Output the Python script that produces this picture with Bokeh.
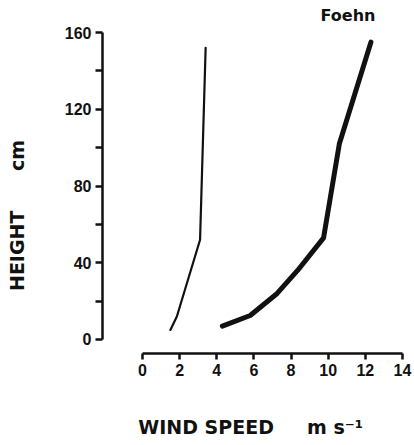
from bokeh.plotting import figure
from bokeh.models import FixedTicker, Range1d, Title
from bokeh.embed import file_html
from bokeh.resources import INLINE

# ---- data ----
normal_speed = [1.5, 1.85, 3.1, 3.4]          # m/s
normal_height = [5, 12, 52, 152]               # cm

foehn_speed = [4.3, 5.8, 7.25, 8.35, 9.75, 10.6, 12.3]
foehn_height = [7, 12.5, 24, 36, 53, 102, 155]

x_ticks = [0, 2, 4, 6, 8, 10, 12, 14]
y_ticks = [0, 40, 80, 120, 160]
y_minor = [20, 60, 100, 140]

NB = "\u00a0"

p = figure(width=414, height=445, output_backend="svg", toolbar_location=None,
           x_range=Range1d(-2.154, 14.162), y_range=Range1d(-7.3, 164.2))
p.min_border_left = 102
p.min_border_right = 9
p.min_border_top = 24
p.min_border_bottom = 92
p.outline_line_color = None
p.xgrid.visible = False
p.ygrid.visible = False
p.background_fill_color = "white"
p.border_fill_color = "white"

ink = "#111111"

# x axis
xa = p.xaxis[0]
xa.ticker = FixedTicker(ticks=x_ticks)
xa.bounds = (0, 14)
xa.axis_line_width = 2.5
xa.axis_line_color = ink
xa.major_tick_line_width = 2.5
xa.major_tick_line_color = ink
xa.major_tick_in = 0
xa.major_tick_out = 6
xa.minor_tick_line_color = None
xa.major_label_standoff = 4
xa.major_label_text_font = "Liberation Sans"
xa.major_label_text_font_style = "bold"
xa.major_label_text_font_size = "16px"
xa.major_label_text_color = ink
xa.axis_label = "WIND SPEED" + NB * 5 + "m s\u207b\u00b9" + NB
xa.axis_label_text_font = "DejaVu Sans"
xa.axis_label_text_font_style = "bold"
xa.axis_label_text_font_size = "19px"
xa.axis_label_text_color = ink
xa.axis_label_standoff = 37

# y axis
ya = p.yaxis[0]
ya.ticker = FixedTicker(ticks=y_ticks, minor_ticks=y_minor)
ya.bounds = (0, 160)
ya.axis_line_width = 2.5
ya.axis_line_color = ink
ya.major_tick_line_width = 2.5
ya.major_tick_line_color = ink
ya.major_tick_in = 0
ya.major_tick_out = 7
ya.minor_tick_line_width = 2.5
ya.minor_tick_line_color = ink
ya.minor_tick_in = 0
ya.minor_tick_out = 7
ya.major_label_standoff = 4
ya.major_label_text_font = "Liberation Sans"
ya.major_label_text_font_style = "bold"
ya.major_label_text_font_size = "16px"
ya.major_label_text_color = ink
ya.axis_label = "HEIGHT" + NB * 6 + "cm" + NB * 8
ya.axis_label_text_font = "DejaVu Sans"
ya.axis_label_text_font_style = "bold"
ya.axis_label_text_font_size = "19px"
ya.axis_label_text_color = ink
ya.axis_label_standoff = 34

# curves
p.line(normal_speed, normal_height, line_width=2.2, line_color=ink,
       line_cap="round", line_join="round")
p.line(foehn_speed, foehn_height, line_width=5, line_color=ink,
       line_cap="round", line_join="round")

# "Foehn" tag above the right curve
p.add_layout(Title(text="Foehn", align="left", offset=218, standoff=0,
                   text_font="DejaVu Sans", text_font_style="bold",
                   text_font_size="16px", text_color=ink), "above")

open("out.html", "w").write(file_html(p, INLINE))
